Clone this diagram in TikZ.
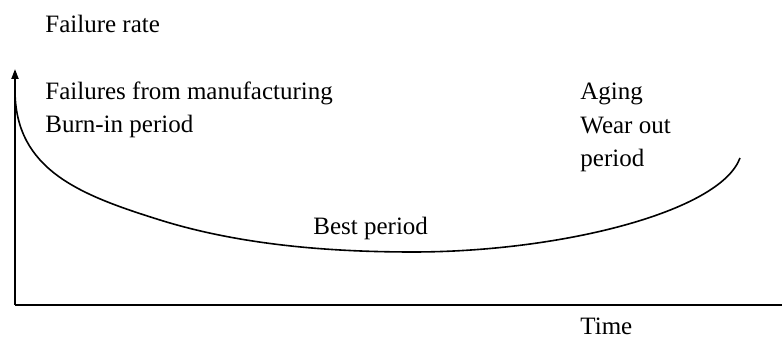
\documentclass[tikz,border=0pt]{standalone}
\usepackage{fontspec}
\setmainfont{Liberation Serif}
\usepackage{tikz}
\usetikzlibrary{arrows.meta}

\begin{document}
\begin{tikzpicture}[
    x=0.5pt, y=-0.5pt,
    font=\fontsize{12.5}{15}\selectfont,
    label/.style={anchor=base west, inner sep=0pt},
    axis/.style={line width=1pt},
    arrow/.style={axis, -{Triangle[length=5pt, width=3.5pt]}},
    curve/.style={line width=0.8pt}
]
\useasboundingbox (0,0) rectangle (782,340);

% Axes
\coordinate (origin) at (15,305);
\coordinate (ytop) at (15,69);
\coordinate (xend) at (782,305);
\draw[arrow] (origin) -- (ytop);
\draw[axis] (origin) -- (xend);

% Labels
\node[label] (rate) at (45,33) {Failure rate};
\node[label] (manuf) at (45,100) {Failures from manufacturing};
\node[label] (burnin) at (45,133) {Burn-in period};
\node[label] (aging) at (580,100) {Aging};
\node[label] (wear) at (580,134) {Wear out};
\node[label] (wearper) at (580,167) {period};
\node[label] (best) at (313,235) {Best period};
\node[label] (time) at (580,335) {Time};

% Bathtub curve
\coordinate (c0) at (15,90);
\coordinate (c1) at (160,220);
\coordinate (c2) at (413,252);
\coordinate (c3) at (740,158);
\draw[curve] (c0) .. controls (15,170) and (80,195) .. (c1)
    .. controls (240,245) and (330,252) .. (c2)
    .. controls (560,252) and (720,212) .. (c3);

\end{tikzpicture}
\end{document}
